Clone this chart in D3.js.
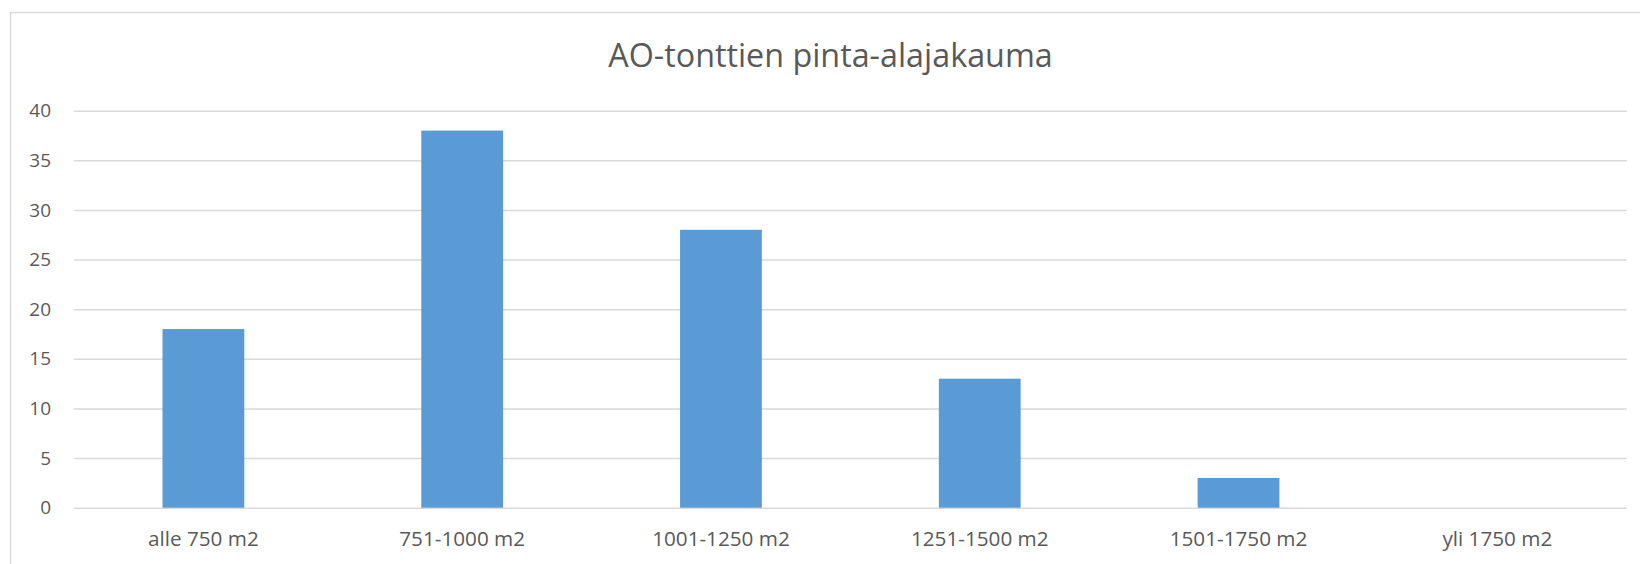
<!DOCTYPE html>
<html>
<head>
<meta charset="utf-8">
<script src="https://cdn.jsdelivr.net/npm/d3@7"></script>
<style>
  html, body { margin: 0; padding: 0; background: #fff; }
  svg { display: block; }
</style>
</head>
<body>
<svg id="chart" width="1640" height="564"></svg>
<script>
const title = "AO-tonttien pinta-alajakauma";
const categories = ["alle 750 m2", "751-1000 m2", "1001-1250 m2", "1251-1500 m2", "1501-1750 m2", "yli 1750 m2"];
const values = [18, 38, 28, 13, 3, 0];
const yTicks = [0, 5, 10, 15, 20, 25, 30, 35, 40];

const W = 1640, H = 564;
const plotLeft = 74, plotRight = 1626.7, plotTop = 110.7, plotBottom = 507.7;
const font = "'Open Sans', sans-serif";
const textColor = "#595959";

const svg = d3.select("#chart");

// chart frame
svg.append("rect")
  .attr("x", 10.5).attr("y", 12.5)
  .attr("width", W).attr("height", H)
  .attr("fill", "#fff").attr("stroke", "#d9d9d9").attr("stroke-width", 1.5);

const x = d3.scaleBand().domain(categories).range([plotLeft, plotRight])
  .paddingInner(0.684).paddingOuter(0.342);
const y = d3.scaleLinear().domain([0, 40]).range([plotBottom, plotTop]);

// gridlines + y labels
const yAxis = d3.axisLeft(y).tickValues(yTicks).tickSize(-(plotRight - plotLeft)).tickPadding(23);
const gy = svg.append("g").attr("transform", `translate(${plotLeft},0)`).call(yAxis);
gy.select(".domain").remove();
gy.selectAll(".tick line").attr("stroke", "#d9d9d9").attr("stroke-width", 1.5);
gy.selectAll(".tick text")
  .attr("fill", textColor).attr("font-family", font).attr("font-size", 19);

// bars
svg.append("g").selectAll("rect").data(values).join("rect")
  .attr("x", (d, i) => x(categories[i]))
  .attr("width", x.bandwidth())
  .attr("y", d => y(d))
  .attr("height", d => y(0) - y(d))
  .attr("fill", "#5b9bd5");

// x labels
const xAxis = d3.axisBottom(x).tickSize(0).tickPadding(23.5);
const gx = svg.append("g").attr("transform", `translate(0,${plotBottom})`).call(xAxis);
gx.select(".domain").remove();
gx.selectAll(".tick text")
  .attr("fill", textColor).attr("font-family", font).attr("font-size", 20.7);

// title
svg.append("text")
  .attr("x", 830.5).attr("y", 66.7)
  .attr("text-anchor", "middle")
  .attr("fill", textColor).attr("font-family", font).attr("font-size", 32.3)
  .text(title);
</script>
</body>
</html>
